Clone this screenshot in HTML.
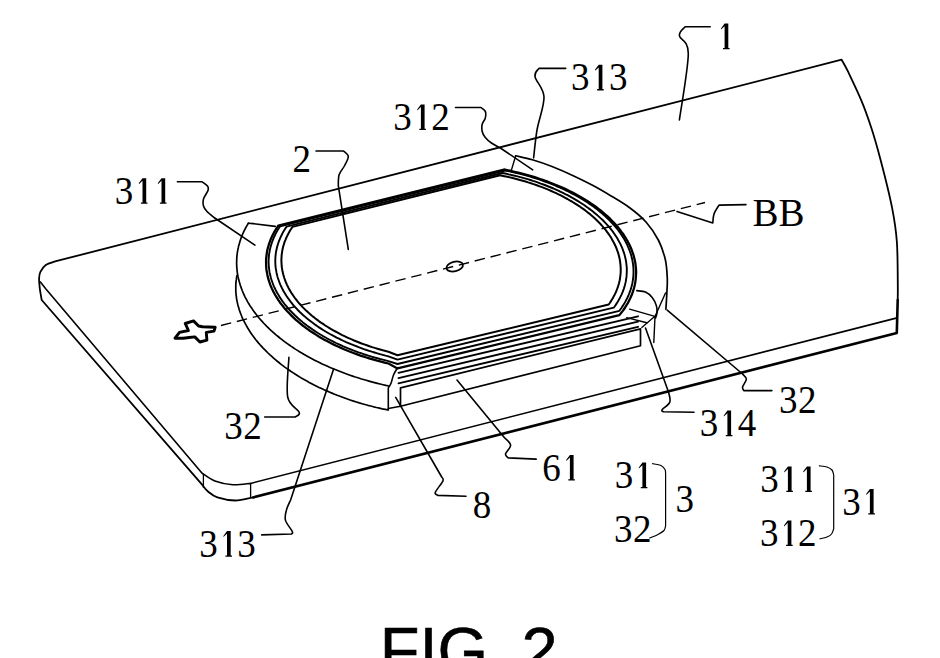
<!DOCTYPE html>
<html><head><meta charset="utf-8"><style>
html,body{margin:0;padding:0;background:#fff;width:940px;height:658px;overflow:hidden;}
svg{display:block;}
</style></head><body>
<svg width="940" height="658" viewBox="0 0 940 658">
<rect width="940" height="658" fill="#fff"/>
<g fill="none" stroke="#000" stroke-linecap="round" stroke-linejoin="round">
<path d="M897.7,300 C897.7,297.7 897.9,295.6 897.8,286 C897.7,276.4 897.8,255.3 896.9,242.3 C896,229.3 894.8,221.6 892.1,207.9 C889.4,194.2 884.1,173.3 880.6,160 C877.1,146.7 874.5,137.6 871.3,127.8 C868.1,118 865.5,110.4 861.6,101.1 C857.8,91.8 851.5,78.8 848.2,71.9 C844.9,65 842.7,61.7 841.6,59.7 L56,261.2 C54.2,261.9 48.1,263.4 45.5,265.2 C42.9,267 41.5,269.7 40.4,271.9 C39.3,274.1 39.2,275.5 39.1,278.3 C39,281.1 39.4,284.9 39.8,288.5 C40.2,292.1 41.4,298.1 41.7,300 L202.1,484.7 C203.1,485.8 205.4,489.4 208,491.5 C210.6,493.6 212.8,495.9 217.4,497.4 C222,498.9 229.3,500.5 235.3,500.5 C241.3,500.5 250.2,497.9 253.2,497.4" stroke-width="1.8" />
<path d="M253.2,497.4 L896.8,333 L897.7,300" stroke-width="2.6" />
<path d="M40.4,282 L45.5,288.5 L202.1,473.2 C204.2,474.5 209.8,479 214.9,480.9 C220,482.8 226.9,484.3 232.8,484.7 C238.8,485.1 247.6,483.6 250.6,483.4 L896.1,318.1" stroke-width="1.6" />
<path d="M203.4,474.5 L203.4,487.2" stroke-width="1.3" />
<path d="M250.6,483.4 L250.6,497.4" stroke-width="1.3" />
<path d="M221,325.5 L705,202.5" stroke-width="1.4" stroke-dasharray="10.5 5.86" stroke-linecap="butt"/>
<path d="M248.4,223.2 L247.4,224.8 L246.5,226.4 L245.6,228 L244.8,229.6 L244,231.2 L243.2,232.8 L242.5,234.5 L241.8,236.1 L241.2,237.7 L240.6,239.4 L240.1,241.1 L239.6,242.7 L239.1,244.4 L238.6,246.1 L238.3,247.7 L237.9,249.4 L237.6,251.1 L237.3,252.8 L237.1,254.5 L236.9,256.2 L236.8,257.9 L236.7,259.6 L236.7,261.3 L236.6,263 L236.7,264.7 L236.7,266.4 L236.9,268.1 L237,269.8 L237.2,271.6 L237.4,273.3 L237.7,275 L238,276.7 L238.4,278.4 L238.8,280.1 L239.3,281.8 L239.8,283.5 L240.3,285.2 L240.9,286.9 L241.5,288.6 L242.1,290.3 L242.8,292 L243.5,293.7 L244.3,295.4 L245.1,297.1 L246,298.7 L246.9,300.4 L247.8,302.1 L248.8,303.7 L249.8,305.4 L250.9,307 L252,308.6 L253.1,310.3 L254.3,311.9 L255.5,313.5 L256.7,315.1 L258,316.7 L259.3,318.3 L260.7,319.9 L262.1,321.4 L263.5,323 L265,324.5 L266.5,326.1 L268.1,327.6 L269.6,329.1 L271.2,330.6 L272.9,332.1 L274.6,333.6 L276.3,335.1 L278.1,336.5 L279.8,338 L281.7,339.4 L283.5,340.8 L285.4,342.3 L287.3,343.6 L289.3,345 L291.3,346.4 L293.3,347.7 L295.3,349.1 L297.4,350.4 L299.5,351.7 L301.7,353 L303.8,354.3 L306,355.5 L308.2,356.8 L310.5,358 L312.8,359.2 L315.1,360.4 L317.4,361.6 L319.8,362.7 L322.2,363.9 L324.6,365 L327,366.1 L329.5,367.2 L331.9,368.2 L334.5,369.3 L337,370.3 L339.5,371.3 L342.1,372.3 L344.7,373.3 L347.3,374.2 L350,375.2 L352.6,376.1 L355.3,377 L358,377.8 L360.7,378.7 L363.4,379.5 L366.2,380.3 L369,381.1 L371.7,381.9 L374.5,382.6 L377.4,383.3 L380.2,384 L383,384.7 L385.9,385.4 L388.7,386" stroke-width="1.7" />
<path d="M515.7,155.8 C518.5,156.5 526.2,158 532.3,159.8 C538.3,161.6 545.2,163.8 552,166.5 C558.8,169.2 566.4,172.5 573.2,175.7 C580,178.9 586.6,182.1 593,185.5 C599.4,188.9 605.3,192.4 611.5,196.2 C617.7,199.9 624.2,203.7 630,208 C635.8,212.3 641.2,216.6 646,222 C650.8,227.4 655.4,234.2 658.6,240.5 C661.8,246.8 663.8,253.2 665.3,259.5 C666.8,265.8 667,272.6 667.3,278.4 C667.5,284.1 667,288.9 666.8,294 C666.6,299.1 666,306.8 665.9,309.3" stroke-width="1.7" />
<path d="M236.9,275.7 L236.6,277.4 L236.4,279.2 L236.1,280.9 L236,282.7 L235.8,284.5 L235.8,286.2 L235.8,288 L235.8,289.8 L235.8,291.6 L236,293.4 L236.1,295.2 L236.4,297 L236.6,298.8 L236.9,300.6 L237.3,302.4 L237.7,304.2 L238.2,306 L238.7,307.8 L239.2,309.6 L239.8,311.4 L240.5,313.2 L241.2,315 L241.9,316.8 L242.7,318.6 L243.6,320.4 L244.5,322.2 L245.4,323.9 L246.4,325.7 L247.4,327.5 L248.5,329.2 L249.6,331 L250.7,332.7 L251.9,334.5 L253.2,336.2 L254.5,337.9 L255.8,339.7 L257.2,341.4 L258.6,343.1 L260.1,344.8 L261.6,346.4 L263.1,348.1 L264.7,349.7 L266.4,351.4 L268,353 L269.7,354.6 L271.5,356.2 L273.3,357.8 L275.1,359.4 L277,361 L278.9,362.5 L280.8,364.1 L282.8,365.6 L284.8,367.1 L286.9,368.6 L289,370 L291.1,371.5 L293.2,372.9 L295.4,374.3 L297.7,375.7 L299.9,377.1 L302.2,378.5 L304.5,379.8 L306.9,381.1 L309.2,382.4 L311.7,383.7 L314.1,384.9 L316.6,386.2 L319,387.4 L321.6,388.6 L324.1,389.8 L326.7,390.9 L329.3,392 L331.9,393.1 L334.5,394.2 L337.2,395.3 L339.9,396.3 L342.6,397.3 L345.3,398.3 L348.1,399.3 L350.8,400.2 L353.6,401.1 L356.4,402 L359.3,402.9 L362.1,403.7 L364.9,404.5 L367.8,405.3 L370.7,406 L373.6,406.8 L376.5,407.5 L379.4,408.1 L382.3,408.8 L385.3,409.4 L388.2,410" stroke-width="1.7" />
<path d="M248.4,223.2 L253.2,223.6 L275.2,226.4" stroke-width="1.6" />
<path d="M515.7,155.8 L511.4,170.1" stroke-width="1.4" />
<path d="M278.3,225.6 L504,169.5 L506.9,170.1 L509.8,170.7 L512.6,171.3 L515.4,172 L518.3,172.7 L521.1,173.4 L523.8,174.1 L526.6,174.8 L529.3,175.6 L532,176.4 L534.7,177.2 L537.4,178.1 L540.1,179 L542.7,179.9 L545.3,180.8 L547.9,181.7 L550.4,182.7 L552.9,183.7 L555.4,184.7 L557.9,185.7 L560.4,186.8 L562.8,187.8 L565.1,188.9 L567.5,190.1 L569.8,191.2 L572.1,192.3 L574.4,193.5 L576.6,194.7 L578.8,195.9 L581,197.2 L583.1,198.4 L585.2,199.7 L587.2,201 L589.2,202.3 L591.2,203.6 L593.2,205 L595.1,206.3 L597,207.7 L598.8,209.1 L600.6,210.5 L602.3,211.9 L604,213.3 L605.7,214.8 L607.3,216.2 L608.9,217.7 L610.5,219.2 L612,220.7 L613.5,222.2 L614.9,223.8 L616.2,225.3 L617.6,226.8 L618.9,228.4 L620.1,230 L621.3,231.6 L622.5,233.1 L623.6,234.7 L624.6,236.4 L625.7,238 L626.6,239.6 L627.6,241.2 L628.4,242.9 L629.3,244.5 L630.1,246.2 L630.8,247.8 L631.5,249.5 L632.1,251.1 L632.7,252.8 L633.3,254.5 L633.8,256.2 L634.2,257.9 L634.6,259.5 L635,261.2 L635.3,262.9 L635.5,264.6 L635.7,266.3 L635.9,268 L636,269.7 L636.1,271.4 L636.1,273 L636,274.7 L635.9,276.4 L635.8,278.1 L635.6,279.8 L635.4,281.5 L635.1,283.1 L634.8,284.8 L634.4,286.5 L634,288.1 L633.5,289.8 L633,291.4 L632.4,293.1 L631.8,294.7 L631.1,296.3 L630.4,297.9 L629.6,299.6 L628.8,301.2 L628,302.8 L627,304.3 L626.1,305.9 L625.1,307.5 L624.1,309 L623,310.6 L621.8,312.1 L620.6,313.6 L619.4,315.1 L397.5,368.4 L388.5,363.5 L385.6,362.8 L382.8,362.1 L380.1,361.4 L377.3,360.7 L374.5,359.9 L371.8,359.1 L369.1,358.3 L366.4,357.5 L363.8,356.6 L361.1,355.8 L358.5,354.9 L355.9,353.9 L353.4,353 L350.8,352 L348.3,351 L345.8,350 L343.4,349 L340.9,347.9 L338.5,346.8 L336.2,345.7 L333.8,344.6 L331.5,343.5 L329.2,342.3 L327,341.1 L324.8,339.9 L322.6,338.7 L320.4,337.5 L318.3,336.2 L316.3,334.9 L314.2,333.6 L312.2,332.3 L310.2,331 L308.3,329.6 L306.4,328.3 L304.6,326.9 L302.7,325.5 L301,324.1 L299.2,322.7 L297.5,321.2 L295.9,319.8 L294.3,318.3 L292.7,316.8 L291.2,315.4 L289.7,313.8 L288.2,312.3 L286.8,310.8 L285.5,309.3 L284.1,307.7 L282.9,306.1 L281.6,304.6 L280.4,303 L279.3,301.4 L278.2,299.8 L277.2,298.2 L276.2,296.6 L275.2,295 L274.3,293.3 L273.4,291.7 L272.6,290 L271.8,288.4 L271.1,286.7 L270.4,285.1 L269.8,283.4 L269.2,281.7 L268.7,280.1 L268.2,278.4 L267.8,276.7 L267.4,275 L267.1,273.3 L266.8,271.7 L266.5,270 L266.3,268.3 L266.2,266.6 L266.1,264.9 L266.1,263.2 L266.1,261.5 L266.1,259.8 L266.2,258.2 L266.4,256.5 L266.6,254.8 L266.8,253.1 L267.1,251.5 L267.4,249.8 L267.8,248.1 L268.3,246.5 L268.8,244.8 L269.3,243.2 L269.9,241.6 L270.5,239.9 L271.2,238.3 L271.9,236.7 L272.7,235.1 L273.5,233.5 L274.4,231.9 L275.3,230.3 L276.3,228.7 L277.3,227.2 L278.3,225.6 Z" stroke-width="2.3" />
<path d="M280.1,226.4 L505.2,170.5 L508,171 L510.9,171.7 L513.7,172.3 L516.5,173 L519.3,173.7 L522.1,174.4 L524.9,175.1 L527.6,175.9 L530.3,176.7 L533,177.5 L535.7,178.4 L538.4,179.2 L541,180.1 L543.6,181 L546.2,182 L548.7,182.9 L551.3,183.9 L553.8,184.9 L556.2,186 L558.7,187 L561.1,188.1 L563.5,189.2 L565.8,190.3 L568.2,191.4 L570.4,192.6 L572.7,193.8 L574.9,195 L577.1,196.2 L579.3,197.4 L581.4,198.7 L583.5,199.9 L585.5,201.2 L587.6,202.5 L589.5,203.9 L591.5,205.2 L593.4,206.6 L595.2,207.9 L597.1,209.3 L598.8,210.7 L600.6,212.2 L602.3,213.6 L603.9,215 L605.6,216.5 L607.1,218 L608.7,219.5 L610.2,221 L611.6,222.5 L613,224 L614.4,225.6 L615.7,227.1 L617,228.7 L618.2,230.3 L619.4,231.9 L620.5,233.4 L621.6,235.1 L622.7,236.7 L623.7,238.3 L624.6,239.9 L625.5,241.5 L626.4,243.2 L627.2,244.8 L627.9,246.5 L628.6,248.1 L629.3,249.8 L629.9,251.5 L630.5,253.1 L631,254.8 L631.5,256.5 L631.9,258.2 L632.3,259.9 L632.6,261.6 L632.9,263.2 L633.1,264.9 L633.3,266.6 L633.4,268.3 L633.5,270 L633.5,271.7 L633.5,273.4 L633.4,275.1 L633.3,276.7 L633.1,278.4 L632.9,280.1 L632.6,281.8 L632.3,283.4 L631.9,285.1 L631.5,286.8 L631,288.4 L630.5,290.1 L629.9,291.7 L629.3,293.3 L628.6,295 L627.9,296.6 L627.2,298.2 L626.3,299.8 L625.5,301.4 L624.6,303 L623.6,304.6 L622.6,306.1 L621.6,307.7 L620.5,309.2 L619.4,310.8 L397.5,364 L388.4,361.1 L385.6,360.4 L382.8,359.7 L380,359 L377.2,358.2 L374.5,357.5 L371.7,356.7 L369,355.8 L366.3,355 L363.6,354.1 L361,353.2 L358.4,352.3 L355.8,351.3 L353.2,350.4 L350.7,349.4 L348.2,348.4 L345.7,347.3 L343.2,346.3 L340.8,345.2 L338.4,344.1 L336,343 L333.7,341.8 L331.4,340.7 L329.1,339.5 L326.9,338.3 L324.7,337 L322.5,335.8 L320.4,334.5 L318.3,333.3 L316.3,332 L314.2,330.6 L312.3,329.3 L310.3,327.9 L308.4,326.6 L306.5,325.2 L304.7,323.8 L302.9,322.4 L301.2,320.9 L299.5,319.5 L297.8,318 L296.2,316.5 L294.6,315 L293.1,313.5 L291.6,312 L290.1,310.5 L288.7,308.9 L287.4,307.4 L286.1,305.8 L284.8,304.3 L283.6,302.7 L282.4,301.1 L281.3,299.5 L280.2,297.9 L279.2,296.2 L278.2,294.6 L277.2,293 L276.3,291.3 L275.5,289.7 L274.7,288 L273.9,286.3 L273.2,284.7 L272.6,283 L272,281.3 L271.4,279.6 L270.9,277.9 L270.5,276.2 L270.1,274.6 L269.7,272.9 L269.4,271.2 L269.2,269.5 L269,267.8 L268.8,266.1 L268.7,264.4 L268.6,262.7 L268.6,261 L268.7,259.3 L268.8,257.6 L268.9,255.9 L269.1,254.2 L269.4,252.5 L269.7,250.8 L270,249.2 L270.4,247.5 L270.9,245.8 L271.4,244.2 L271.9,242.5 L272.5,240.9 L273.2,239.2 L273.8,237.6 L274.6,236 L275.4,234.3 L276.2,232.7 L277.1,231.1 L278,229.5 L279,228 L280.1,226.4 Z" stroke-width="1.9" />
<path d="M286.6,226.6 L502.3,173 L505.2,173.5 L508.1,174.2 L510.9,174.8 L513.7,175.5 L516.5,176.2 L519.3,176.9 L522.1,177.6 L524.8,178.4 L527.6,179.2 L530.3,180 L533,180.9 L535.6,181.7 L538.2,182.6 L540.8,183.6 L543.4,184.5 L546,185.5 L548.5,186.5 L551,187.5 L553.5,188.5 L555.9,189.6 L558.3,190.7 L560.7,191.8 L563,192.9 L565.3,194.1 L567.6,195.2 L569.8,196.4 L572,197.6 L574.2,198.9 L576.3,200.1 L578.4,201.4 L580.5,202.7 L582.5,204 L584.5,205.3 L586.4,206.7 L588.3,208.1 L590.2,209.4 L592,210.8 L593.8,212.2 L595.5,213.7 L597.2,215.1 L598.9,216.6 L600.5,218.1 L602.1,219.5 L603.6,221 L605.1,222.6 L606.5,224.1 L607.9,225.6 L609.2,227.2 L610.5,228.7 L611.8,230.3 L613,231.9 L614.1,233.5 L615.2,235.1 L616.3,236.7 L617.3,238.3 L618.2,240 L619.1,241.6 L620,243.2 L620.8,244.9 L621.6,246.6 L622.3,248.2 L622.9,249.9 L623.5,251.6 L624.1,253.2 L624.6,254.9 L625,256.6 L625.4,258.3 L625.8,260 L626.1,261.7 L626.3,263.4 L626.5,265.1 L626.7,266.8 L626.8,268.4 L626.8,270.1 L626.8,271.8 L626.7,273.5 L626.6,275.2 L626.5,276.9 L626.2,278.6 L626,280.3 L625.7,281.9 L625.3,283.6 L624.9,285.3 L624.4,286.9 L623.9,288.6 L623.3,290.2 L622.7,291.8 L622,293.5 L621.3,295.1 L620.5,296.7 L619.7,298.3 L618.8,299.9 L617.9,301.5 L616.9,303.1 L615.9,304.6 L614.8,306.2 L613.7,307.7 L397.5,359.6 L388.4,356.3 L385.6,355.6 L382.8,354.8 L380,354.1 L377.3,353.3 L374.5,352.5 L371.8,351.7 L369.1,350.8 L366.5,350 L363.8,349.1 L361.2,348.1 L358.6,347.2 L356.1,346.2 L353.5,345.2 L351,344.2 L348.5,343.1 L346.1,342.1 L343.7,341 L341.3,339.9 L339,338.7 L336.6,337.6 L334.4,336.4 L332.1,335.2 L329.9,334 L327.7,332.7 L325.6,331.5 L323.5,330.2 L321.4,328.9 L319.4,327.6 L317.4,326.2 L315.5,324.9 L313.6,323.5 L311.7,322.1 L309.9,320.7 L308.1,319.3 L306.4,317.9 L304.7,316.4 L303,315 L301.4,313.5 L299.8,312 L298.3,310.5 L296.8,308.9 L295.4,307.4 L294,305.9 L292.7,304.3 L291.4,302.7 L290.2,301.1 L289,299.5 L287.8,297.9 L286.7,296.3 L285.7,294.7 L284.7,293.1 L283.7,291.4 L282.8,289.8 L282,288.1 L281.2,286.5 L280.4,284.8 L279.7,283.2 L279.1,281.5 L278.5,279.8 L277.9,278.1 L277.4,276.4 L277,274.7 L276.6,273 L276.3,271.3 L276,269.6 L275.7,267.9 L275.5,266.2 L275.4,264.5 L275.3,262.8 L275.3,261.1 L275.3,259.4 L275.4,257.8 L275.5,256.1 L275.7,254.4 L275.9,252.7 L276.2,251 L276.6,249.3 L276.9,247.6 L277.4,246 L277.9,244.3 L278.4,242.7 L279,241 L279.7,239.4 L280.4,237.7 L281.1,236.1 L281.9,234.5 L282.7,232.9 L283.6,231.3 L284.6,229.7 L285.6,228.1 L286.6,226.6 Z" stroke-width="1.9" />
<path d="M292.5,226.9 L500.2,175.3 L503.1,175.9 L505.9,176.5 L508.8,177.1 L511.6,177.8 L514.4,178.5 L517.2,179.2 L520,180 L522.7,180.7 L525.5,181.5 L528.2,182.4 L530.9,183.2 L533.5,184.1 L536.1,185 L538.7,186 L541.3,186.9 L543.8,187.9 L546.4,188.9 L548.8,189.9 L551.3,191 L553.7,192.1 L556.1,193.2 L558.5,194.3 L560.8,195.4 L563.1,196.6 L565.3,197.8 L567.5,199 L569.7,200.3 L571.9,201.5 L574,202.8 L576,204.1 L578,205.4 L580,206.7 L582,208.1 L583.9,209.4 L585.7,210.8 L587.5,212.2 L589.3,213.6 L591,215.1 L592.7,216.5 L594.4,218 L596,219.5 L597.5,221 L599,222.5 L600.5,224 L601.9,225.6 L603.2,227.1 L604.5,228.7 L605.8,230.2 L607,231.8 L608.2,233.4 L609.3,235 L610.4,236.6 L611.4,238.3 L612.3,239.9 L613.2,241.5 L614.1,243.2 L614.9,244.8 L615.7,246.5 L616.4,248.2 L617,249.8 L617.6,251.5 L618.2,253.2 L618.7,254.9 L619.1,256.6 L619.5,258.3 L619.8,259.9 L620.1,261.6 L620.3,263.3 L620.5,265 L620.6,266.7 L620.7,268.4 L620.7,270.1 L620.7,271.8 L620.6,273.5 L620.4,275.2 L620.2,276.9 L620,278.6 L619.7,280.2 L619.3,281.9 L618.9,283.6 L618.4,285.2 L617.9,286.9 L617.3,288.5 L616.7,290.2 L616,291.8 L615.3,293.4 L614.5,295 L613.6,296.6 L612.8,298.2 L611.8,299.8 L610.8,301.4 L609.8,303 L608.7,304.5 L397.5,355.2 L388.4,351.8 L385.6,351 L382.9,350.3 L380.1,349.5 L377.4,348.7 L374.7,347.9 L372.1,347.1 L369.4,346.2 L366.8,345.3 L364.2,344.4 L361.6,343.5 L359.1,342.5 L356.6,341.5 L354.1,340.5 L351.7,339.4 L349.3,338.4 L346.9,337.3 L344.5,336.2 L342.2,335.1 L339.9,333.9 L337.7,332.7 L335.5,331.5 L333.3,330.3 L331.2,329.1 L329.1,327.8 L327,326.5 L325,325.3 L323,323.9 L321,322.6 L319.1,321.3 L317.3,319.9 L315.4,318.5 L313.7,317.1 L311.9,315.7 L310.2,314.2 L308.6,312.8 L307,311.3 L305.4,309.9 L303.9,308.4 L302.4,306.9 L301,305.3 L299.6,303.8 L298.3,302.3 L297,300.7 L295.8,299.1 L294.6,297.6 L293.5,296 L292.4,294.4 L291.3,292.8 L290.4,291.2 L289.4,289.5 L288.5,287.9 L287.7,286.3 L286.9,284.6 L286.2,283 L285.5,281.3 L284.9,279.6 L284.3,278 L283.8,276.3 L283.3,274.6 L282.9,273 L282.5,271.3 L282.2,269.6 L281.9,267.9 L281.7,266.2 L281.6,264.5 L281.5,262.9 L281.4,261.2 L281.4,259.5 L281.5,257.8 L281.6,256.1 L281.7,254.5 L282,252.8 L282.2,251.1 L282.5,249.5 L282.9,247.8 L283.3,246.1 L283.8,244.5 L284.3,242.9 L284.9,241.2 L285.6,239.6 L286.2,238 L287,236.4 L287.8,234.8 L288.6,233.2 L289.5,231.6 L290.4,230 L291.4,228.5 L292.5,226.9 Z" stroke-width="2" />
<path d="M398.5,372.8 L638,316.3" stroke-width="1.9" />
<path d="M398.5,378.1 L638,321.6" stroke-width="1.9" />
<path d="M398.5,383.3 L638,326.8" stroke-width="1.9" />
<path d="M640.5,328.8 L400.5,387.8 L400.5,406.3 L640.5,345.8 L640.5,328.8" stroke-width="1.7" />
<path d="M388.3,408.5 L400.5,406.3" stroke-width="1.6" />
<path d="M397.5,367.7 C396.8,368.9 394.6,372.4 393.5,375 C392.4,377.6 391.9,381.1 391,383.3 C390.1,385.5 388.8,387.2 388.3,388 L388.3,409.8" stroke-width="1.6" />
<path d="M636.8,290.6 C638.2,290.9 642.9,290.9 645.5,292.1 C648.1,293.3 650.6,295.5 652.4,297.8 C654.2,300.1 655.6,303.3 656.4,305.8 C657.2,308.3 657.1,310.6 657,312.6 C656.9,314.6 655.8,317.1 655.5,318" stroke-width="1.6" />
<path d="M665.5,293 L655,316.5 L653.8,342.5" stroke-width="1.4" />
<path d="M629.6,309.2 L655.8,316.6" stroke-width="1.4" />
<path d="M626.7,317.6 L646.8,322.8" stroke-width="1.4" />
<path d="M641.8,327.6 L654.3,316.7" stroke-width="1.3" />
<path d="M446.5,268.5 a8.2,4.6 -14 1,0 16.4,-4 a8.2,4.6 -14 1,0 -16.4,4 Z" stroke-width="1.8" />
<path d="M185.2,323.5 L193.5,320.9 L198.6,326 L202.5,326.7 L215.2,327.3 L214,331.1 L206.3,332.4 L206.9,340.1 L199.9,342 L194.8,336.9 L189.1,337.5 L183.3,338.2 L175,338.2 L179.5,332.4 L188.4,330.5 L185.9,324.8 Z" stroke-width="2.9" />
<path d="M710.2,26.8 L685,26.8 C684.1,28.3 678.9,31.2 679.4,35.7 C679.9,40.2 688.3,39.6 688.3,53.6 C688.3,67.7 680.9,108.9 679.4,120" stroke-width="1.6" />
<path d="M565.7,68.4 L539,68.4 C538.3,69.8 534.2,71.8 535,76.6 C535.8,81.4 543.7,88.1 544,97 C544.3,105.9 538.7,119.8 537,130 C535.3,140.2 534.2,153.2 533.6,157.9" stroke-width="1.6" />
<path d="M455.5,107.5 L481,107.5 C481.7,108.2 484.6,109.6 485.3,111.4 C486,113.2 485.8,116 485.3,118.1 C484.8,120.2 482.7,122 482.2,124.2 C481.7,126.4 481.7,129.3 482.2,131.5 C482.7,133.7 483.8,135.7 485.3,137.6 C486.8,139.5 488.8,141.2 491.4,143 C494,144.8 499.5,147.6 501.1,148.5 L532.7,169.8" stroke-width="1.6" />
<path d="M316,151 L343.5,151 C344.3,151.9 348.1,154 348.3,156.4 C348.5,158.8 346.2,162.5 344.7,165.5 C343.2,168.5 340.3,171.2 339.2,174.6 C338.1,177.9 338.4,183.8 338.3,185.6 L348.3,249.4" stroke-width="1.6" />
<path d="M177.4,181.8 L202.1,181.8 C203,182.5 206.5,184.6 207.5,186 C208.5,187.4 208.7,188.3 208,190.5 C207.3,192.7 204.2,196.4 203.5,199 C202.8,201.6 202.9,203.9 203.5,206 C204.1,208.1 205.2,209.6 207,211.5 C208.8,213.4 212.8,216.5 214,217.5 L254.9,245.1" stroke-width="1.6" />
<path d="M746,204.6 L719.1,205.1 C718.2,206.6 715,211 714,214 C713,217 713,221.5 712.8,223 L677,211.5" stroke-width="1.6" />
<path d="M264.7,417 L295.3,417 C295.9,416.2 300.5,415.6 299.2,412.3 C297.9,409 289.4,406.1 287.7,397 C286,387.9 288.7,364 288.9,357.4" stroke-width="1.6" />
<path d="M261.7,534.9 L291.5,534 C291.6,533.6 293.3,533.8 292.3,531.5 C291.3,529.2 286.5,523.9 285.5,520.4 C284.5,516.9 285.5,513.6 286.4,510.2 C287.2,506.8 289.9,501.7 290.6,500 L333.6,368.9" stroke-width="1.6" />
<path d="M466,496.2 L437.9,495.4 C437.5,494.9 434.4,494.7 435.3,492.3 C436.2,489.9 441.9,483.4 443,480.9 C444.1,478.3 441.9,477.6 441.7,477 L395.7,397.4" stroke-width="1.6" />
<path d="M536.2,459.1 L508.1,457.9 C507.7,457.2 505.1,456.1 505.5,454 C505.9,451.9 510.8,447.9 510.6,445.1 C510.4,442.3 505.4,438.7 504.3,437.4 L457,380" stroke-width="1.6" />
<path d="M694,412.3 L663.4,411.8 C663.2,411.5 661,411.4 662.1,409.8 C663.2,408.2 668.7,405.1 669.8,402.1 C670.9,399.1 668.7,393.6 668.5,391.9 L645.5,328.1" stroke-width="1.6" />
<path d="M771.9,390.6 L743.8,390.6 C743.6,390 742.2,388.7 742.6,386.8 C743,384.9 746.4,381.2 746.4,379.1 C746.4,377 743.2,374.9 742.6,374 L667.2,310.2" stroke-width="1.6" />
<path d="M652.6,463.7 C654,464 658.9,464.5 661,465.5 C663.1,466.5 664.2,468.1 665,469.5 C665.8,470.9 665.5,473.2 665.6,474 L665.6,525.7 C665.3,526.5 665.3,529 664,530.5 C662.7,532 660.4,533.2 658,534.5 C655.6,535.8 651.1,537.4 649.7,538" stroke-width="1.2" />
<path d="M819.3,465.8 C820.6,466 824.9,466.3 827,467 C829.1,467.7 830.9,468.7 832,470 C833.1,471.3 833.4,474.2 833.7,475 L833.7,528.7 C833.4,529.6 832.7,532.6 831.6,534 C830.5,535.4 828.9,536.2 827,537 C825.1,537.8 821.2,538.5 820,538.8" stroke-width="1.2" />
</g>
<g font-family="Liberation Serif, serif" font-size="39" fill="#000">
<text transform="translate(571,90.4) scale(0.95,1)">3</text>
<text transform="translate(609,90.4) scale(0.95,1)">3</text>
<text transform="translate(393.2,130) scale(0.95,1)">3</text>
<text transform="translate(431.2,130) scale(0.95,1)">2</text>
<text transform="translate(292.6,172) scale(0.95,1)">2</text>
<text transform="translate(114.8,203.8) scale(0.95,1)">3</text>
<text x="752.5" y="226">BB</text>
<text transform="translate(224.2,438.7) scale(0.95,1)">3</text>
<text transform="translate(243.2,438.7) scale(0.95,1)">2</text>
<text transform="translate(779,413.2) scale(0.95,1)">3</text>
<text transform="translate(798,413.2) scale(0.95,1)">2</text>
<text transform="translate(699.8,436.2) scale(0.95,1)">3</text>
<text transform="translate(737.8,436.2) scale(0.95,1)">4</text>
<text transform="translate(542.2,480.5) scale(0.95,1)">6</text>
<text transform="translate(472.8,518) scale(0.95,1)">8</text>
<text transform="translate(199.2,556.7) scale(0.95,1)">3</text>
<text transform="translate(237.2,556.7) scale(0.95,1)">3</text>
<text transform="translate(614.8,488.2) scale(0.95,1)">3</text>
<text transform="translate(614,541.6) scale(0.95,1)">3</text>
<text transform="translate(633,541.6) scale(0.95,1)">2</text>
<text transform="translate(675.5,512.3) scale(0.95,1)">3</text>
<text transform="translate(760.2,492.1) scale(0.95,1)">3</text>
<text transform="translate(760,546) scale(0.95,1)">3</text>
<text transform="translate(798,546) scale(0.95,1)">2</text>
<text transform="translate(842.2,514.5) scale(0.95,1)">3</text>
</g>
<path fill="#000" d="M724.6,23.6 h3.7 v24.3 h1.3 v1.3 h-6.6 v-1.3 h1.6 v-21.7 l-3.6,3.4 v-1.2 Z M598.7,64.8 h3.7 v24.3 h1.3 v1.3 h-6.6 v-1.3 h1.6 v-21.7 l-3.6,3.4 v-1.2 Z M420.9,104.4 h3.7 v24.3 h1.3 v1.3 h-6.6 v-1.3 h1.6 v-21.7 l-3.6,3.4 v-1.2 Z M142.5,178.2 h3.7 v24.3 h1.3 v1.3 h-6.6 v-1.3 h1.6 v-21.7 l-3.6,3.4 v-1.2 Z M161.5,178.2 h3.7 v24.3 h1.3 v1.3 h-6.6 v-1.3 h1.6 v-21.7 l-3.6,3.4 v-1.2 Z M727.4,410.6 h3.7 v24.3 h1.3 v1.3 h-6.6 v-1.3 h1.6 v-21.7 l-3.6,3.4 v-1.2 Z M569.9,454.9 h3.7 v24.3 h1.3 v1.3 h-6.6 v-1.3 h1.6 v-21.7 l-3.6,3.4 v-1.2 Z M227,531.1 h3.7 v24.3 h1.3 v1.3 h-6.6 v-1.3 h1.6 v-21.7 l-3.6,3.4 v-1.2 Z M642.4,462.6 h3.7 v24.3 h1.3 v1.3 h-6.6 v-1.3 h1.6 v-21.7 l-3.6,3.4 v-1.2 Z M787.9,466.5 h3.7 v24.3 h1.3 v1.3 h-6.6 v-1.3 h1.6 v-21.7 l-3.6,3.4 v-1.2 Z M806.9,466.5 h3.7 v24.3 h1.3 v1.3 h-6.6 v-1.3 h1.6 v-21.7 l-3.6,3.4 v-1.2 Z M787.7,520.4 h3.7 v24.3 h1.3 v1.3 h-6.6 v-1.3 h1.6 v-21.7 l-3.6,3.4 v-1.2 Z M869.9,488.9 h3.7 v24.3 h1.3 v1.3 h-6.6 v-1.3 h1.6 v-21.7 l-3.6,3.4 v-1.2 Z"/>
<text x="379.8" y="672.8" font-family="Liberation Sans, sans-serif" font-size="65" fill="#000" stroke="#000" stroke-width="0.6">FIG.</text>
<text x="521.5" y="672.8" font-family="Liberation Sans, sans-serif" font-size="65" fill="#000" stroke="#000" stroke-width="0.6">2</text>
</svg>
</body></html>
